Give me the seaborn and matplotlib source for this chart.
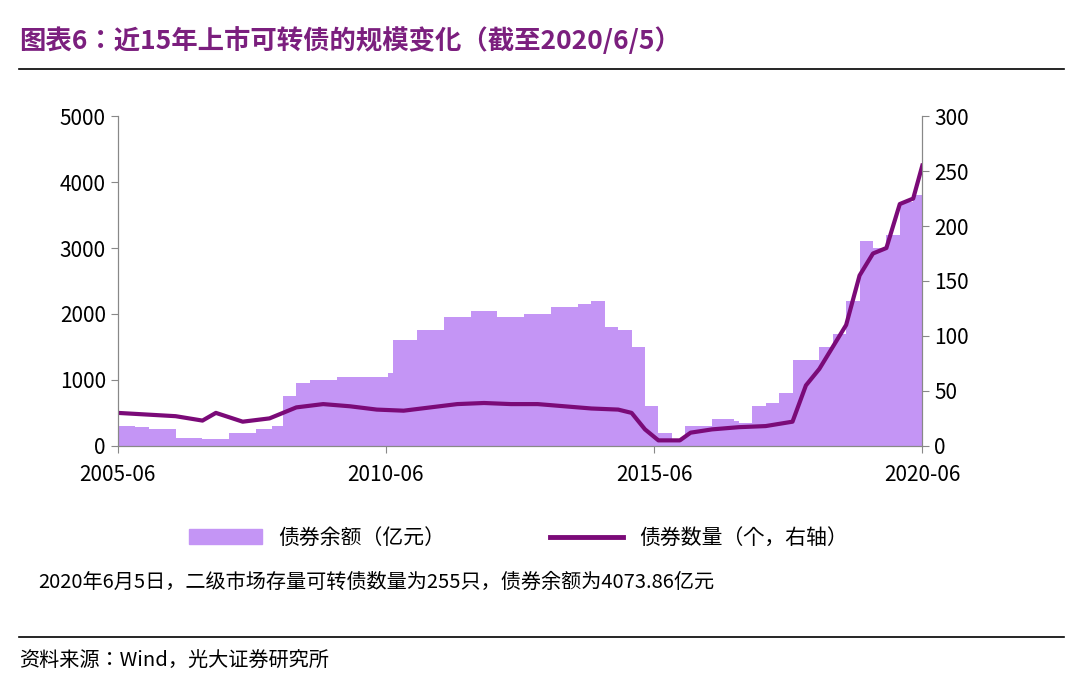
import matplotlib
matplotlib.use("Agg")
import matplotlib.pyplot as plt
from matplotlib import font_manager as fm
import seaborn as sns
import pandas as pd
from matplotlib.lines import Line2D
from matplotlib.patches import Patch

cjk_name = None
for f in fm.findSystemFonts():
    if "CJK" in f or "cjk" in f.lower():
        try:
            fm.fontManager.addfont(f)
        except Exception:
            pass
names = sorted({f.name for f in fm.fontManager.ttflist if "CJK" in f.name})
for pref in ["Noto Sans CJK SC", "Noto Sans CJK JP"]:
    if pref in names:
        cjk_name = pref; break
if cjk_name is None and names:
    cjk_name = names[0]
plt.rcParams["font.family"] = [cjk_name or "Noto Sans CJK SC", "DejaVu Sans"]
plt.rcParams["font.sans-serif"] = [cjk_name or "Noto Sans CJK SC", "DejaVu Sans"]

area_t = [2005.42,2005.75,2006.0,2006.5,2007.0,2007.5,2008.0,2008.3,2008.5,2008.75,2009.0,2009.5,2010.0,2010.45,2010.55,2011.0,2011.5,2012.0,2012.5,2013.0,2013.5,2014.0,2014.25,2014.5,2014.75,2015.0,2015.25,2015.5,2015.75,2016.0,2016.5,2016.9,2017.0,2017.25,2017.5,2017.75,2018.0,2018.5,2018.75,2019.0,2019.25,2019.5,2019.75,2020.0,2020.25,2020.42]
area_v = [300,280,250,120,100,200,250,300,750,950,1000,1050,1050,1100,1600,1750,1950,2050,1950,2000,2100,2150,2200,1800,1750,1500,600,200,100,300,400,380,350,600,650,800,1300,1500,1700,2200,3100,3000,3200,3700,3800,4100]

line_t = [2005.42,2006.5,2007.0,2007.25,2007.75,2008.25,2008.75,2009.25,2009.75,2010.25,2010.75,2011.25,2011.75,2012.25,2012.75,2013.25,2013.75,2014.25,2014.75,2015.0,2015.25,2015.5,2015.9,2016.1,2016.5,2017.0,2017.5,2017.75,2018.0,2018.25,2018.5,2018.75,2019.0,2019.25,2019.5,2019.75,2020.0,2020.25,2020.42]
line_v = [30,27,23,30,22,25,35,38,36,33,32,35,38,39,38,38,36,34,33,30,15,5,5,12,15,17,18,20,22,55,70,90,110,155,175,180,220,225,255]

tick_pos = [2005.42,2010.42,2015.42,2020.42]
tick_lab = ["2005-06","2010-06","2015-06","2020-06"]

purple_fill = "#c495f5"
purple_line = "#7b0a78"

fig = plt.figure(figsize=(10.8,6.87), dpi=100)
ax = fig.add_axes([0.109, 0.351, 0.745, 0.48])
df_a = pd.DataFrame({"t":area_t,"v":area_v})
ax.fill_between(df_a["t"], df_a["v"], step="post", color=purple_fill, linewidth=0)
ax.set_xlim(2005.42, 2020.42)
ax.set_ylim(0, 5000)
ax.set_yticks(range(0,5001,1000))
ax.set_xticks(tick_pos, tick_lab)
ax2 = ax.twinx()
df_l = pd.DataFrame({"t":line_t,"v":line_v})
sns.lineplot(data=df_l, x="t", y="v", ax=ax2, color=purple_line, linewidth=3)
ax2.set_ylim(0, 300)
ax2.set_yticks(range(0,301,50))
ax2.set_xlim(2005.42, 2020.42)
for a in (ax, ax2):
    a.set_xlabel(""); a.set_ylabel("")
    a.tick_params(labelsize=15, direction="out", length=5, color="#888888")
    a.spines["top"].set_visible(False)
    for s in ["left","right","bottom"]:
        a.spines[s].set_color("#888888")
ax.tick_params(axis="x", pad=8)

fig.text(0.018, 0.94, "图表6：近15年上市可转债的规模变化（截至2020/6/5）", fontsize=19, fontweight="bold", color="#7b1f7e", va="center")
fig.add_artist(Line2D([0.018,0.985],[0.9,0.9], color="black", lw=1.2))
fig.add_artist(Line2D([0.018,0.985],[0.073,0.073], color="black", lw=1.2))
handles = [Patch(color=purple_fill, label="债券余额（亿元）"), Line2D([],[],color=purple_line, lw=3.5, label="债券数量（个，右轴）")]
fig.legend(handles=handles, loc="center", bbox_to_anchor=(0.48,0.217), ncol=2, frameon=False, fontsize=15, columnspacing=5, handlelength=3.5)
fig.text(0.035, 0.152, "2020年6月5日，二级市场存量可转债数量为255只，债券余额为4073.86亿元", fontsize=14.5, va="center")
fig.text(0.018, 0.037, "资料来源：Wind，光大证券研究所", fontsize=14.5, va="center")
fig.savefig("out.png", dpi=100)
